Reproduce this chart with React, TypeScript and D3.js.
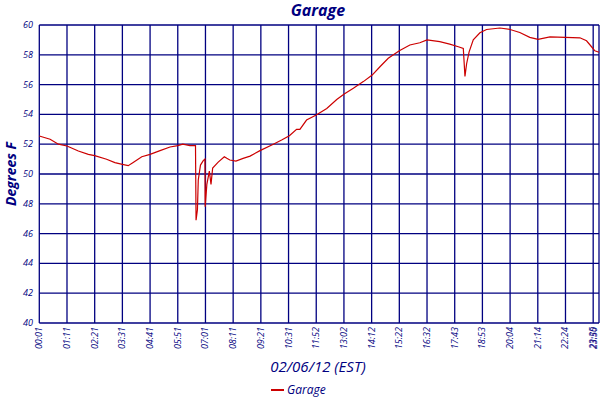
import * as d3 from 'd3'

// x positions are in tick units (one unit per time label)
const samplePos = [
  0, 0.39, 0.69, 1, 1.41, 1.77, 2, 2.43, 2.73, 3, 3.21, 3.39, 3.7, 4, 4.36, 4.72, 5, 5.18, 5.44,
  5.64, 5.66, 5.71, 5.74, 5.82, 5.92, 5.98, 5.99, 6.05, 6.14, 6.2, 6.26, 6.46, 6.68, 6.77, 6.88,
  7.1, 7.36, 7.61, 7.97, 8.45, 8.75, 9.03, 9.29, 9.41, 9.65, 10, 10.38, 10.74, 11.01, 11.34,
  11.7, 12.02, 12.3, 12.6, 13, 13.38, 13.74, 14, 14.46, 14.82, 15.13, 15.31, 15.37, 15.43,
  15.52, 15.67, 15.91, 16.15, 16.63, 17, 17.35, 17.71, 18.01, 18.44, 18.99, 19.52, 19.76,
  19.94, 20.06, 20.21,
]

const garageTemps = [
  52.55, 52.33, 52.0, 51.88, 51.54, 51.32, 51.23, 50.99, 50.76, 50.65, 50.56, 50.78, 51.16, 51.32,
  51.57, 51.81, 51.9, 52.0, 51.9,
  51.9, 46.9, 47.6, 49.6, 50.6, 50.9, 51.0, 47.8, 49.3, 50.2, 49.3, 50.4, 50.8, 51.16, 51.05, 50.94,
  50.87, 51.05, 51.2, 51.57, 52.0, 52.28, 52.57, 53.0, 53.0, 53.62, 53.96, 54.4, 55.0, 55.37, 55.75,
  56.2, 56.64, 57.2, 57.77, 58.27, 58.66, 58.81, 59.0, 58.88, 58.72, 58.54, 58.43, 56.55, 57.4,
  58.2, 59.0, 59.48, 59.7, 59.8, 59.7, 59.5, 59.17, 59.04, 59.2, 59.17, 59.14, 58.94,
  58.54, 58.27, 58.17,
]

const timeLabels = [
  '00:01', '01:11', '02:21', '03:31', '04:41', '05:51', '07:01', '08:11', '09:21', '10:31',
  '11:52', '13:02', '14:12', '15:22', '16:32', '17:43', '18:53', '20:04', '21:14', '22:24',
  '23:35', '23:50',
]
const lastPos = 20.21

const yTicks = [40, 42, 44, 46, 48, 50, 52, 54, 56, 58, 60]

const NAVY = '#000080'
const RED = '#cc0000'
const FONT = 'Open Sans, DejaVu Sans, sans-serif'

export default function App() {
  const width = 600
  const height = 400
  const margin = { top: 25, right: 1, bottom: 77, left: 39.3 }

  const x = d3.scaleLinear()
    .domain([0, lastPos])
    .range([margin.left, width - margin.right])

  const y = d3.scaleLinear()
    .domain([40, 60])
    .range([height - margin.bottom, margin.top])

  const tickPos = timeLabels.map((_, i) => (i < timeLabels.length - 1 ? i : lastPos))

  const line = d3.line<number>()
    .x((_, i) => x(samplePos[i]))
    .y(d => y(d))

  const [x0, x1] = x.range()
  const [yb, yt] = y.range()

  return (
    <svg width={width} height={height} style={{ position: 'absolute', left: 0, top: 0, background: '#fff' }}>
      <text x={318} y={16} textAnchor="middle" fill={NAVY} fontFamily={FONT}
        fontStyle="italic" fontWeight="bold" fontSize={16}>Garage</text>

      {/* grid */}
      <g stroke={NAVY} strokeWidth={1.3}>
        {yTicks.map(t => (
          <line key={'h' + t} x1={x0} x2={x1} y1={y(t)} y2={y(t)} />
        ))}
        {tickPos.map((p, i) => (
          <line key={'v' + i} x1={x(p)} x2={x(p)} y1={yt} y2={yb} />
        ))}
      </g>

      {/* y labels */}
      <g fill={NAVY} fontFamily={FONT} fontStyle="italic" fontSize={9}>
        {yTicks.map(t => (
          <text key={t} x={33} y={y(t) + 3} textAnchor="end">{t}</text>
        ))}
      </g>

      {/* x labels */}
      <g fill={NAVY} fontFamily={FONT} fontStyle="italic" fontSize={9}>
        {timeLabels.map((l, i) => (
          <text key={l} transform={`translate(${Math.min(x(tickPos[i]) + 3, 597)},${yb + 4}) rotate(-90)`}
            textAnchor="end">{l}</text>
        ))}
      </g>

      <path d={line(garageTemps) ?? ''} fill="none" stroke={RED} strokeWidth={1.2} />

      <text transform={`translate(16,${(yt + yb) / 2}) rotate(-90)`} textAnchor="middle"
        fill={NAVY} fontFamily={FONT} fontStyle="italic" fontWeight="bold" fontSize={14}>Degrees F</text>

      <text x={318} y={372} textAnchor="middle" fill={NAVY} fontFamily={FONT}
        fontStyle="italic" fontSize={15}>02/06/12 (EST)</text>

      <line x1={271} x2={284} y1={390} y2={390} stroke={RED} strokeWidth={2} />
      <text x={287} y={394} fill={NAVY} fontFamily={FONT} fontStyle="italic" fontSize={12}>Garage</text>
    </svg>
  )
}
